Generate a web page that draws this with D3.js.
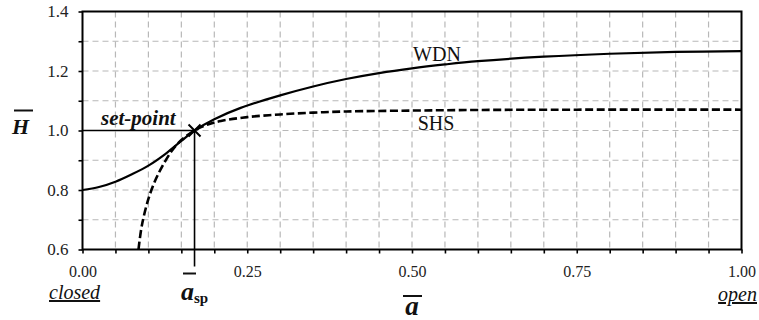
<!DOCTYPE html>
<html>
<head>
<meta charset="utf-8">
<script src="https://cdn.jsdelivr.net/npm/d3@7"></script>
<style>
  body { margin: 0; background: #fff; }
  svg { display: block; }
  svg text { font-family: "Liberation Serif", "DejaVu Serif", "Times New Roman", Times, serif; }
</style>
</head>
<body>
<div id="chart"></div>
<script>
// valve opening vs. head
const aWDN = [0, 0.025, 0.05, 0.075, 0.10, 0.125, 0.15, 0.17, 0.20, 0.24, 0.30, 0.35, 0.40, 0.45, 0.50, 0.55, 0.60, 0.70, 0.80, 0.90, 1.00]
const hWDN = [0.800, 0.810, 0.828, 0.853, 0.882, 0.920, 0.965, 1.000, 1.038, 1.076, 1.118, 1.148, 1.173, 1.193, 1.209, 1.222, 1.233, 1.248, 1.258, 1.264, 1.267]

const aSHS = [0.085, 0.09, 0.10, 0.11, 0.12, 0.135, 0.15, 0.17, 0.19, 0.21, 0.25, 0.30, 0.35, 0.40, 0.50, 0.60, 0.75, 1.00]
const hSHS = [0.600, 0.680, 0.770, 0.830, 0.875, 0.930, 0.968, 1.000, 1.020, 1.032, 1.045, 1.054, 1.060, 1.064, 1.067, 1.069, 1.070, 1.070]

const setPoint = [0.17, 1.0]

const xTicks = [0, 0.25, 0.5, 0.75, 1.0]
const xTickLabels = ["0.00", "0.25", "0.50", "0.75", "1.00"]
const yTicks = [0.6, 0.8, 1.0, 1.2, 1.4]
const yTickLabels = ["0.6", "0.8", "1.0", "1.2", "1.4"]

const width = 759
const height = 320
const serif = '"Liberation Serif", "DejaVu Serif", "Times New Roman", Times, serif'

const x = d3.scaleLinear().domain([0, 1]).range([82.5, 741.5])
const y = d3.scaleLinear().domain([0.6, 1.4]).range([249.5, 11.5])

const svg = d3.select("#chart").append("svg")
    .attr("width", width)
    .attr("height", height)

// dashed grid
const grid = svg.append("g")
    .attr("stroke", "#b8b8b8")
    .attr("stroke-width", 1.2)
    .attr("stroke-dasharray", "6,4")

grid.selectAll("line.v")
  .data(d3.range(1, 20).map(i => i / 20))
  .join("line")
    .attr("class", "v")
    .attr("x1", d => x(d)).attr("x2", d => x(d))
    .attr("y1", y(1.4)).attr("y2", y(0.6))

grid.selectAll("line.h")
  .data(d3.range(7, 14).map(i => i / 10))
  .join("line")
    .attr("class", "h")
    .attr("x1", x(0)).attr("x2", x(1))
    .attr("y1", d => y(d)).attr("y2", d => y(d))

// axes
const xAxis = d3.axisBottom(x)
    .tickValues(d3.range(0, 21).map(i => i / 20))
    .tickSize(4)
    .tickPadding(12.5)
    .tickFormat(d => {
      const k = xTicks.findIndex(t => Math.abs(t - d) < 1e-9)
      return k >= 0 ? xTickLabels[k] : ""
    })

const yAxis = d3.axisLeft(y)
    .tickValues(d3.range(6, 15).map(i => i / 10))
    .tickSize(4)
    .tickPadding(10)
    .tickFormat(d => {
      const k = yTicks.findIndex(t => Math.abs(t - d) < 1e-9)
      return k >= 0 ? yTickLabels[k] : ""
    })

function styleAxis(size) {
  return function(g) {
    g.attr("font-family", serif).attr("font-size", size)
    g.select(".domain").remove()
    g.selectAll(".tick line").attr("stroke", "#000").attr("stroke-width", 1.6)
    g.selectAll(".tick text").attr("fill", "#222")
  }
}

svg.append("g")
    .attr("transform", `translate(0,${y(0.6)})`)
    .call(xAxis)
    .call(styleAxis(16))

svg.append("g")
    .attr("transform", `translate(${x(0)},0)`)
    .call(yAxis)
    .call(styleAxis(17))

// curves
const line = d3.line()
    .curve(d3.curveCatmullRom)
    .x(d => x(d[0]))
    .y(d => y(d[1]))

svg.append("path")
    .datum(aWDN.map((a, i) => [a, hWDN[i]]))
    .attr("fill", "none")
    .attr("stroke", "#000")
    .attr("stroke-width", 2.2)
    .attr("d", line)

svg.append("path")
    .datum(aSHS.map((a, i) => [a, hSHS[i]]))
    .attr("fill", "none")
    .attr("stroke", "#000")
    .attr("stroke-width", 2.6)
    .attr("stroke-dasharray", "8,3.5")
    .attr("d", line)

// frame
svg.append("rect")
    .attr("x", x(0)).attr("y", y(1.4))
    .attr("width", x(1) - x(0)).attr("height", y(0.6) - y(1.4))
    .attr("fill", "none")
    .attr("stroke", "#000")
    .attr("stroke-width", 2)

// set-point guides
const sx = x(setPoint[0]), sy = y(setPoint[1])
svg.append("line")
    .attr("x1", x(0)).attr("x2", sx)
    .attr("y1", sy).attr("y2", sy)
    .attr("stroke", "#000").attr("stroke-width", 1.6)
svg.append("line")
    .attr("x1", sx).attr("x2", sx)
    .attr("y1", sy).attr("y2", y(0.6) + 17)
    .attr("stroke", "#000").attr("stroke-width", 1.6)

svg.append("path")
    .attr("d", `M${sx - 6},${sy - 6}L${sx + 6},${sy + 6}M${sx - 6},${sy + 6}L${sx + 6},${sy - 6}`)
    .attr("stroke", "#000").attr("stroke-width", 2)

// labels
const labels = svg.append("g").attr("fill", "#111").attr("font-family", serif)

labels.append("text")
    .attr("x", 437).attr("y", 60.5)
    .attr("text-anchor", "middle")
    .attr("font-size", 20)
    .text("WDN")

labels.append("text")
    .attr("x", 436).attr("y", 130)
    .attr("text-anchor", "middle")
    .attr("font-size", 20)
    .text("SHS")

labels.append("text")
    .attr("x", 101).attr("y", 125)
    .attr("font-size", 21)
    .attr("font-weight", "bold")
    .attr("font-style", "italic")
    .text("set-point")

// H bar
labels.append("text")
    .attr("x", 12).attr("y", 133.5)
    .attr("font-size", 22)
    .attr("font-weight", "bold")
    .attr("font-style", "italic")
    .text("H")
labels.append("line")
    .attr("x1", 14).attr("x2", 33)
    .attr("y1", 110.5).attr("y2", 110.5)
    .attr("stroke", "#111").attr("stroke-width", 2)

// a_sp
const asp = labels.append("text")
    .attr("x", 181).attr("y", 300)
    .attr("font-weight", "bold")
    .attr("font-size", 26)
asp.append("tspan").attr("font-style", "italic").text("a")
asp.append("tspan").attr("font-size", 15).attr("dy", 3).text("sp")
labels.append("line")
    .attr("x1", 183).attr("x2", 196)
    .attr("y1", 273.5).attr("y2", 273.5)
    .attr("stroke", "#111").attr("stroke-width", 2)

// a bar
labels.append("text")
    .attr("x", x(0.5)).attr("y", 315)
    .attr("text-anchor", "middle")
    .attr("font-size", 27)
    .attr("font-weight", "bold")
    .attr("font-style", "italic")
    .text("a")
labels.append("line")
    .attr("x1", x(0.5) - 9).attr("x2", x(0.5) + 10)
    .attr("y1", 296).attr("y2", 296)
    .attr("stroke", "#111").attr("stroke-width", 2)

labels.append("text")
    .attr("x", 49).attr("y", 299)
    .attr("font-size", 20)
    .attr("font-style", "italic")
    .attr("text-decoration", "underline")
    .text("closed")

labels.append("text")
    .attr("x", 757).attr("y", 301)
    .attr("text-anchor", "end")
    .attr("font-size", 20)
    .attr("font-style", "italic")
    .attr("text-decoration", "underline")
    .text("open")
</script>
</body>
</html>
